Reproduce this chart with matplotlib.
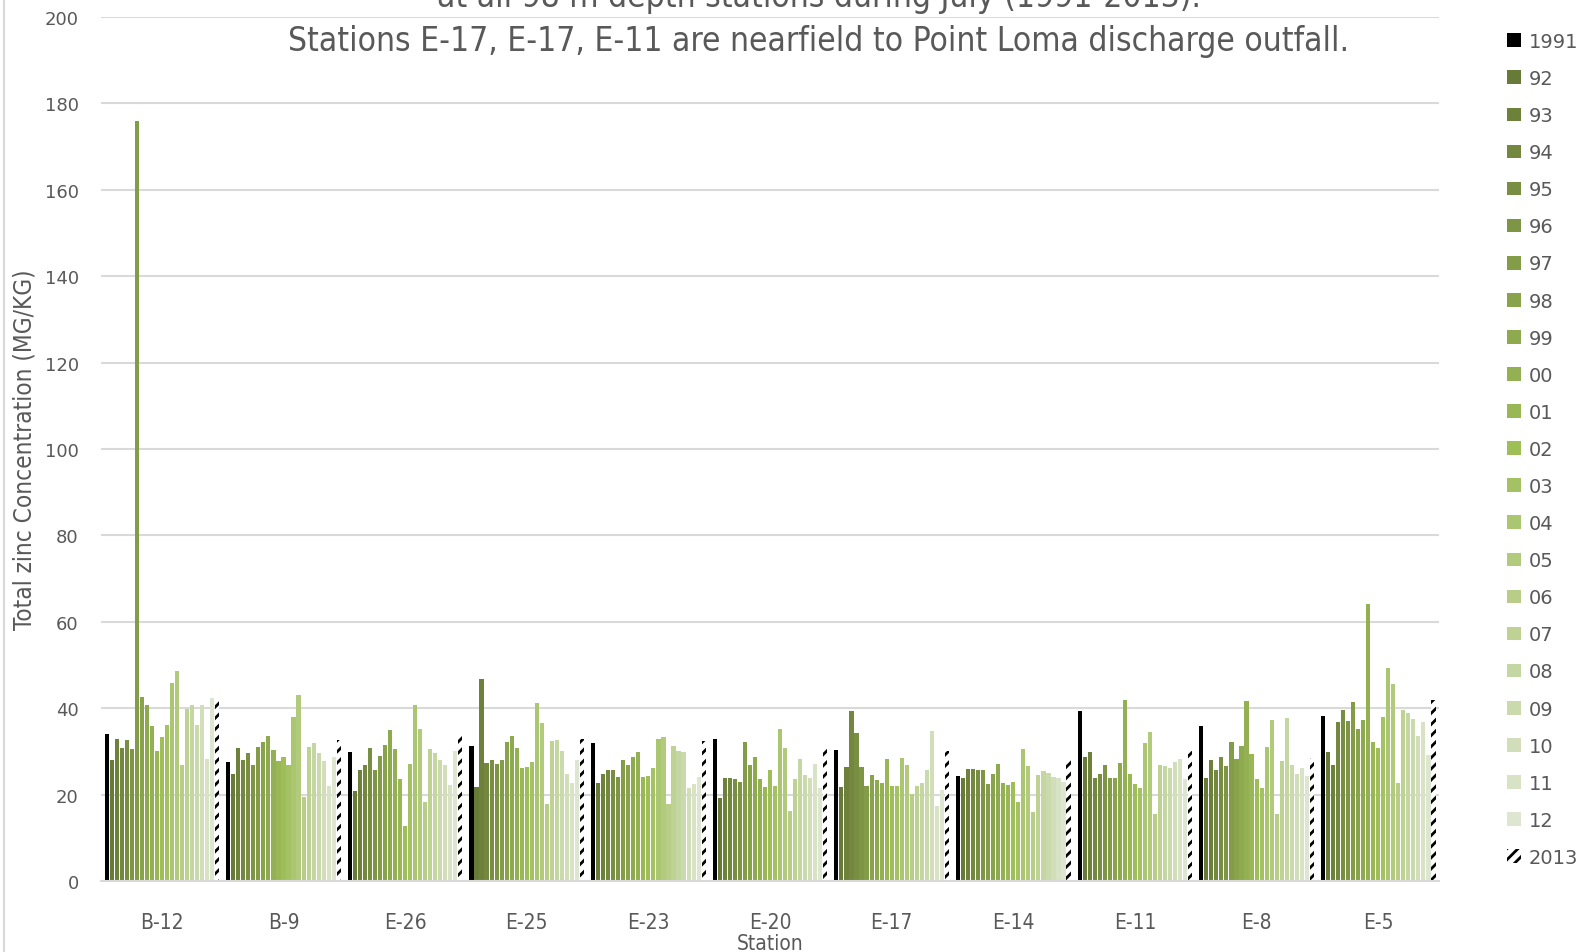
import numpy as np
import matplotlib
matplotlib.use("Agg")
from matplotlib import pyplot as plt
from matplotlib.lines import Line2D

###################
# Data            #
###################

stations = ['B-12', 'B-9', 'E-26', 'E-25', 'E-23', 'E-20',
            'E-17', 'E-14', 'E-11', 'E-8', 'E-5']
years = ['1991', '92', '93', '94', '95', '96', '97', '98', '99', '00',
         '01', '02', '03', '04', '05', '06', '07', '08', '09', '10',
         '11', '12', '2013']

# one list per station, 1991 .. 2013
zn_b12 = [34.0, 27.9, 32.9, 30.8, 32.6, 30.6, 176.0, 42.5, 40.7, 35.9, 30.2,
          33.3, 36.0, 45.8, 48.5, 26.8, 39.8, 40.7, 36.1, 40.7, 28.3, 42.4, 42.0]
zn_b9 = [27.6, 24.8, 30.8, 27.9, 29.6, 26.9, 31.1, 32.1, 33.6, 30.3, 27.7,
         28.6, 26.8, 37.9, 43.1, 19.4, 31.0, 31.9, 29.6, 27.7, 21.9, 28.6, 32.6]
zn_e26 = [29.9, 20.8, 25.8, 26.8, 30.9, 25.8, 28.9, 31.5, 35.0, 30.5, 23.6,
          12.7, 27.0, 40.7, 35.2, 18.4, 30.5, 29.6, 28.0, 26.8, 22.2, 30.0, 34.0]
zn_e25 = [31.3, 21.8, 46.8, 27.3, 27.9, 27.1, 28.1, 32.1, 33.6, 30.7, 26.1,
          26.3, 27.5, 41.3, 36.5, 17.8, 32.3, 32.6, 30.1, 24.8, 22.7, 28.0, 32.9]
zn_e23 = [31.9, 22.8, 24.8, 25.8, 25.6, 24.1, 28.0, 26.9, 28.8, 29.9, 24.0,
          24.3, 26.2, 32.8, 33.3, 17.8, 31.3, 30.2, 29.9, 21.5, 22.5, 24.1, 32.5]
zn_e20 = [32.8, 19.3, 23.8, 23.8, 23.6, 23.0, 32.2, 26.8, 28.7, 23.6, 21.8,
          25.7, 22.1, 35.3, 30.7, 16.1, 23.5, 28.2, 24.5, 23.8, 27.0, 21.5, 31.2]
zn_e17 = [30.4, 21.8, 26.3, 39.3, 34.2, 26.3, 22.1, 24.6, 23.3, 22.8, 28.2,
          22.1, 22.1, 28.4, 26.9, 20.1, 22.1, 22.6, 25.7, 34.7, 17.4, 21.1, 30.0]
zn_e14 = [24.2, 23.8, 25.9, 25.9, 25.7, 25.7, 22.4, 24.7, 27.0, 22.7, 22.2,
          23.0, 18.4, 30.5, 26.6, 16.0, 24.6, 25.5, 25.0, 24.1, 23.8, 23.0, 28.3]
zn_e11 = [39.3, 28.7, 29.8, 23.8, 24.8, 26.9, 23.8, 23.8, 27.3, 41.9, 24.8,
          22.4, 21.5, 31.9, 34.4, 15.5, 26.9, 26.6, 26.2, 27.5, 28.2, 23.5, 30.0]
zn_e8 = [35.8, 23.8, 27.9, 25.8, 28.8, 26.7, 32.1, 28.2, 31.3, 41.6, 29.3,
         23.7, 21.5, 31.0, 37.3, 15.5, 27.8, 37.7, 26.9, 24.8, 26.1, 24.3, 28.5]
zn_e5 = [38.3, 29.8, 26.8, 36.7, 39.6, 37.0, 41.4, 35.3, 37.3, 64.1, 32.1,
         30.7, 37.9, 49.2, 45.6, 22.8, 39.6, 38.9, 37.5, 33.6, 36.7, 29.2, 42.0]

zn_all = [zn_b12, zn_b9, zn_e26, zn_e25, zn_e23, zn_e20,
          zn_e17, zn_e14, zn_e11, zn_e8, zn_e5]

title_line1 = 'at all 98 m depth stations during July (1991-2013).'
title_line2 = 'Stations E-17, E-17, E-11 are nearfield to Point Loma discharge outfall.'

###################
# Style           #
###################

plt.rcParams.update({'font.family': 'DejaVu Sans',
                     'hatch.linewidth': 2.0})

narrow = dict(family='DejaVu Sans', stretch='condensed')
grey_text = '#595959'
grid_col = '#d9d9d9'


def year_colors():
    # black, dark olive -> bright green -> pale green, hatched last
    dark = np.array([104, 122, 56]) / 255
    mid = np.array([158, 190, 88]) / 255
    pale = np.array([222, 230, 209]) / 255
    cols = ['black']
    for t in np.linspace(0, 1, 11):
        cols.append(tuple(dark + (mid - dark) * t))
    for t in np.linspace(0, 1, 11)[1:]:
        cols.append(tuple(mid + (pale - mid) * t))
    cols.append('white')
    return cols


colors = year_colors()

###################
# Plot            #
###################

fig = plt.figure(figsize=(15.81, 9.53), dpi=100)
ax = fig.add_axes([0.0639, 0.0745, 0.8463, 0.9066])

n_years = len(years)
step = 0.0413
width = 0.034
x = np.arange(len(stations))
handles = []
for i, lab in enumerate(years):
    vals = [s[i] for s in zn_all]
    pos = x + (i - (n_years - 1) / 2) * step
    if lab == '2013':
        h = ax.bar(pos, vals, width=width, color='white', edgecolor='black',
                   linewidth=0, hatch='///', label=lab)
    else:
        h = ax.bar(pos, vals, width=width, color=colors[i], linewidth=0,
                   label=lab)
    handles.append(h)

ax.set_xlim(-0.5, len(stations) - 0.5)
ax.set_ylim(0, 200)
ax.set_yticks(np.arange(0, 201, 20))
ax.set_xticks(x)
ax.set_xticklabels(stations, fontsize=15, color=grey_text, **narrow)
ax.tick_params(axis='y', labelsize=13, labelcolor=grey_text, length=0, pad=16)
ax.tick_params(axis='x', length=0, pad=22)

ax.yaxis.grid(True, color=grid_col, linewidth=1.5)
ax.set_axisbelow(True)
for side in ['top', 'right', 'left']:
    ax.spines[side].set_visible(False)
ax.spines['bottom'].set_color(grid_col)
ax.spines['bottom'].set_linewidth(1.5)

ax.set_xlabel('Station', fontsize=15, color=grey_text, labelpad=1, **narrow)
ax.set_ylabel('Total zinc Concentration (MG/KG)', fontsize=17.5,
              color=grey_text, labelpad=6, **narrow)

fig.text(0.518, 1.0 + 3 / 953, title_line1, fontsize=24,
         color=grey_text, ha='center', va='center', **narrow)
fig.text(0.518, 1 - 41 / 953, title_line2, fontsize=24,
         color=grey_text, ha='center', va='center', **narrow)

fig.legend(handles=handles, loc='upper left',
           bbox_to_anchor=(1507 / 1581, 1 - 33 / 953), frameon=False,
           fontsize=14, labelcolor=grey_text, handlelength=0.7,
           handleheight=0.7, handletextpad=0.4, labelspacing=0.93,
           borderpad=0, borderaxespad=0)

# outer chart border on the left
fig.add_artist(Line2D([4 / 1581, 4 / 1581], [0, 1], color=grid_col,
                      linewidth=1.5, transform=fig.transFigure))

fig.savefig('out.png', dpi=100)
